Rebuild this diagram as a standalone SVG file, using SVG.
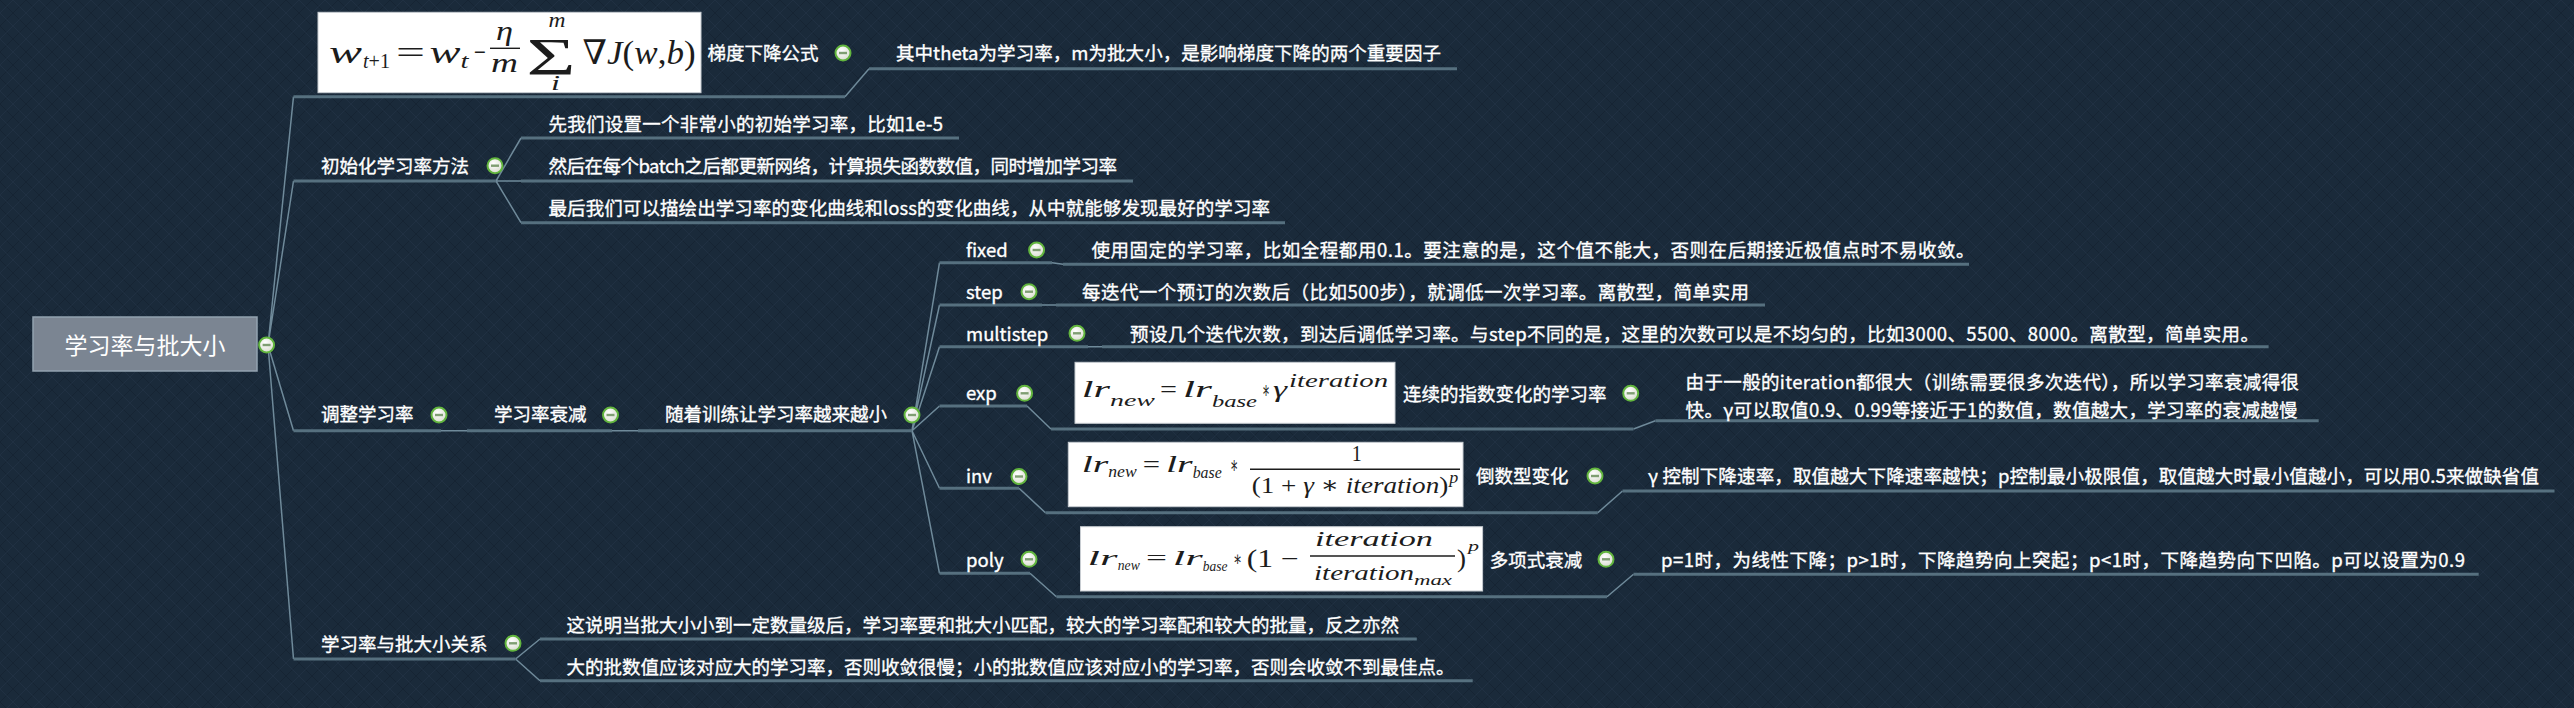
<svg xmlns="http://www.w3.org/2000/svg" width="2574" height="708" viewBox="0 0 2574 708">
<defs>
<style>
.t{font-family:"Noto Sans CJK SC","Noto Sans",sans-serif;font-size:18.5px;fill:#ffffff;stroke:#ffffff;stroke-width:0.35px;}
.rt{font-family:"Noto Sans CJK SC","Noto Sans",sans-serif;font-size:23px;fill:#ffffff;}
.ul{stroke:#56707f;stroke-width:3;fill:none;}
.cn{stroke:#6f8a9a;stroke-width:1.5;fill:none;}
.fb{fill:#ffffff;stroke:#c8cdd2;stroke-width:1;}
.m{font-family:"Liberation Serif","DejaVu Serif",serif;font-style:italic;fill:#1c1c1c;}
.u{font-style:normal;}
.bar{stroke:#1c1c1c;stroke-width:1.4;}
</style>
<radialGradient id="bg1" cx="0.4" cy="0.35" r="0.7">
<stop offset="0" stop-color="#ffffff"/>
<stop offset="1" stop-color="#d9dccf"/>
</radialGradient>
<g id="btn">
<circle r="7.5" fill="url(#bg1)" stroke="#62b53e" stroke-width="2"/>
<rect x="-4" y="-1.2" width="8" height="2.4" fill="#7f9e72"/>
</g>
<pattern id="tex" width="26" height="26" patternUnits="userSpaceOnUse">
<rect width="26" height="26" fill="#1a2a3a"/>
<path d="M0 0L26 26M26 0L0 26" stroke="#0f1a26" stroke-opacity="0.35" stroke-width="1"/>
<path d="M13 0L26 13M0 13L13 26M13 0L0 13M26 13L13 26" stroke="#2c3d4f" stroke-opacity="0.35" stroke-width="1"/>
</pattern>
</defs>
<rect width="2574" height="708" fill="url(#tex)"/>

<g id="connectors">
<path class="cn" d="M268 345L293.5 96.7M268 345L293.5 181M268 345L293.5 430.7M268 345L293.5 659"/>
<path class="cn" d="M845 96.7L869 68.7"/>
<path class="cn" d="M496 181L521 138M496 181L521 181M496 181L521 222.7"/>
<path class="cn" d="M441 430.7L467 430.7M612 430.7L638 430.7"/>
<path class="cn" d="M912 430.7L939.5 262.7M912 430.7L939.5 305M912 430.7L939.5 346.7M912 430.7L939.5 406M912 430.7L939.5 488.3M912 430.7L939.5 573.3"/>
<path class="cn" d="M1052 262.7L1063 264.3M1042 305L1056 305M1088 346.7L1102 346.7"/>
<path class="cn" d="M1027 406L1051 429M1633.5 429L1655.4 420.7"/>
<path class="cn" d="M1019 488.3L1045.4 512.7M1597.8 512.7L1622.5 491"/>
<path class="cn" d="M1030 573.3L1056.4 596.7M1607 596.7L1633.5 574.3"/>
<path class="cn" d="M515.6 659L540 639M515.6 659L540 680.7"/>
</g>

<g id="root">
<rect x="33" y="317" width="224" height="54" fill="#7b8592" stroke="#93a3b0" stroke-width="1.5"/>
<text class="rt" x="145" y="353.5" text-anchor="middle">学习率与批大小</text>
<use href="#btn" x="266.6" y="345"/>
</g>

<g id="n-gradient">
<path class="ul" d="M293.5 96.7H845"/>
<rect class="fb" x="318" y="12.3" width="383" height="80.4"/>
<text class="m" x="329" y="63" font-size="32" textLength="33" lengthAdjust="spacingAndGlyphs">w</text>
<text class="m" x="363" y="68" font-size="21" textLength="27" lengthAdjust="spacingAndGlyphs">t<tspan class="u">+1</tspan></text>
<text class="m u" x="396" y="63" font-size="32" textLength="29" lengthAdjust="spacingAndGlyphs">=</text>
<text class="m" x="429.5" y="63" font-size="32" textLength="31" lengthAdjust="spacingAndGlyphs">w</text>
<text class="m" x="460.5" y="68" font-size="21" textLength="8" lengthAdjust="spacingAndGlyphs">t</text>
<text class="m u" x="474" y="62" font-size="30" textLength="12" lengthAdjust="spacingAndGlyphs">−</text>
<text class="m" x="496" y="40" font-size="28" textLength="17" lengthAdjust="spacingAndGlyphs">η</text>
<line class="bar" x1="490" y1="48.3" x2="520" y2="48.3"/>
<text class="m" x="491" y="72" font-size="28" textLength="27" lengthAdjust="spacingAndGlyphs">m</text>
<text class="m u" x="526.6" y="75" font-size="52" textLength="49" lengthAdjust="spacingAndGlyphs">Σ</text>
<text class="m" x="548.5" y="27" font-size="20" textLength="17" lengthAdjust="spacingAndGlyphs">m</text>
<text class="m" x="551" y="90" font-size="20" textLength="9" lengthAdjust="spacingAndGlyphs">i</text>
<text class="m" x="582.6" y="64" font-size="34" textLength="113" lengthAdjust="spacingAndGlyphs"><tspan class="u">∇</tspan>J<tspan class="u">(</tspan>w<tspan class="u">,</tspan>b<tspan class="u">)</tspan></text>
<text class="t" x="707.6" y="60">梯度下降公式</text>
<use href="#btn" x="843" y="53"/>
</g>
<g id="n-gradient-note">
<path class="ul" d="M869 68.7H1457"/>
<text class="t" x="896" y="60" textLength="545" lengthAdjust="spacing">其中theta为学习率，m为批大小，是影响梯度下降的两个重要因子</text>
</g>

<g id="n-init">
<path class="ul" d="M293.5 181H496"/>
<text class="t" x="321" y="173">初始化学习率方法</text>
<use href="#btn" x="495" y="165.7"/>
</g>
<g id="n-init-1">
<path class="ul" d="M521 138H959"/>
<text class="t" x="548.5" y="131" textLength="394.5" lengthAdjust="spacing">先我们设置一个非常小的初始学习率，比如1e-5</text>
</g>
<g id="n-init-2">
<path class="ul" d="M521 181H1133"/>
<text class="t" x="548.5" y="173" textLength="568.5" lengthAdjust="spacing">然后在每个batch之后都更新网络，计算损失函数数值，同时增加学习率</text>
</g>
<g id="n-init-3">
<path class="ul" d="M521 222.7H1285"/>
<text class="t" x="548.5" y="215" textLength="721.5" lengthAdjust="spacing">最后我们可以描绘出学习率的变化曲线和loss的变化曲线，从中就能够发现最好的学习率</text>
</g>

<g id="n-adjust">
<path class="ul" d="M293.5 430.7H441"/>
<text class="t" x="321" y="421">调整学习率</text>
<use href="#btn" x="439" y="415"/>
</g>
<g id="n-decay">
<path class="ul" d="M467 430.7H612"/>
<text class="t" x="494" y="421">学习率衰减</text>
<use href="#btn" x="610.5" y="415"/>
</g>
<g id="n-smaller">
<path class="ul" d="M638 430.7H912"/>
<text class="t" x="665" y="421">随着训练让学习率越来越小</text>
<use href="#btn" x="912" y="415"/>
</g>

<g id="n-fixed">
<path class="ul" d="M939.5 262.7H1052"/>
<text class="t" x="966" y="257">fixed</text>
<use href="#btn" x="1036.6" y="250"/>
</g>
<g id="n-fixed-note">
<path class="ul" d="M1063 264.3H1969"/>
<text class="t" x="1091.5" y="257" textLength="883" lengthAdjust="spacing">使用固定的学习率，比如全程都用0.1。要注意的是，这个值不能大，否则在后期接近极值点时不易收敛。</text>
</g>

<g id="n-step">
<path class="ul" d="M939.5 305H1042"/>
<text class="t" x="966" y="298.7">step</text>
<use href="#btn" x="1029" y="291.7"/>
</g>
<g id="n-step-note">
<path class="ul" d="M1056 305H1765"/>
<text class="t" x="1082" y="298.7" textLength="667" lengthAdjust="spacing">每迭代一个预订的次数后（比如500步），就调低一次学习率。离散型，简单实用</text>
</g>

<g id="n-multistep">
<path class="ul" d="M939.5 346.7H1088"/>
<text class="t" x="966" y="341">multistep</text>
<use href="#btn" x="1077" y="333.3"/>
</g>
<g id="n-multistep-note">
<path class="ul" d="M1102 346.7H2268.6"/>
<text class="t" x="1130" y="341" textLength="1129" lengthAdjust="spacing">预设几个迭代次数，到达后调低学习率。与step不同的是，这里的次数可以是不均匀的，比如3000、5500、8000。离散型，简单实用。</text>
</g>

<g id="n-exp">
<path class="ul" d="M939.5 406H1027"/>
<text class="t" x="966" y="400.3">exp</text>
<use href="#btn" x="1024.6" y="393.3"/>
</g>
<g id="n-exp-formula">
<path class="ul" d="M1051 429H1633.5"/>
<rect class="fb" x="1075" y="362.3" width="320" height="61"/>
<text class="m" x="1081.7" y="396.7" font-size="24" textLength="28.3" lengthAdjust="spacingAndGlyphs">lr</text>
<text class="m" x="1110" y="406" font-size="17" textLength="45" lengthAdjust="spacingAndGlyphs">new</text>
<text class="m u" x="1160" y="396.7" font-size="24" textLength="17" lengthAdjust="spacingAndGlyphs">=</text>
<text class="m" x="1183" y="396.7" font-size="24" textLength="29" lengthAdjust="spacingAndGlyphs">lr</text>
<text class="m" x="1212" y="407" font-size="17" textLength="45" lengthAdjust="spacingAndGlyphs">base</text>
<text class="m u" x="1262" y="398" font-size="24" textLength="8" lengthAdjust="spacingAndGlyphs">∗</text>
<text class="m" x="1273" y="396.7" font-size="24" textLength="14" lengthAdjust="spacingAndGlyphs">γ</text>
<text class="m" x="1289" y="386.7" font-size="18" textLength="99" lengthAdjust="spacingAndGlyphs">iteration</text>
<text class="t" x="1403" y="401">连续的指数变化的学习率</text>
<use href="#btn" x="1630.7" y="393.3"/>
</g>
<g id="n-exp-note">
<path class="ul" d="M1655.4 420.7H2318.7"/>
<text class="t" x="1685.6" y="388.7" textLength="613.4" lengthAdjust="spacing">由于一般的iteration都很大（训练需要很多次迭代），所以学习率衰减得很</text>
<text class="t" x="1685.6" y="417" textLength="612" lengthAdjust="spacing">快。γ可以取值0.9、0.99等接近于1的数值，数值越大，学习率的衰减越慢</text>
</g>

<g id="n-inv">
<path class="ul" d="M939.5 488.3H1019"/>
<text class="t" x="966" y="483">inv</text>
<use href="#btn" x="1019" y="476.5"/>
</g>
<g id="n-inv-formula">
<path class="ul" d="M1045.4 512.7H1597.8"/>
<rect class="fb" x="1068.3" y="442.3" width="394.7" height="64.4"/>
<text class="m" x="1081.7" y="471.7" font-size="24" textLength="26.6" lengthAdjust="spacingAndGlyphs">lr</text>
<text class="m" x="1108.3" y="477" font-size="16" textLength="28.4" lengthAdjust="spacingAndGlyphs">new</text>
<text class="m u" x="1142.7" y="471.7" font-size="24" textLength="17.3" lengthAdjust="spacingAndGlyphs">=</text>
<text class="m" x="1166" y="471.7" font-size="24" textLength="26.7" lengthAdjust="spacingAndGlyphs">lr</text>
<text class="m" x="1192.7" y="478" font-size="16" textLength="29" lengthAdjust="spacingAndGlyphs">base</text>
<text class="m u" x="1230" y="473" font-size="24" textLength="8.3" lengthAdjust="spacingAndGlyphs">∗</text>
<text class="m u" x="1351.7" y="461" font-size="24" textLength="10" lengthAdjust="spacingAndGlyphs">1</text>
<line class="bar" x1="1250" y1="469.3" x2="1460" y2="469.3"/>
<text class="m" x="1251.7" y="493.3" font-size="24" textLength="196.6" lengthAdjust="spacingAndGlyphs"><tspan class="u">(1 + </tspan>γ<tspan class="u"> ∗ </tspan>iteration<tspan class="u">)</tspan></text>
<text class="m" x="1449.3" y="483.3" font-size="16" textLength="9" lengthAdjust="spacingAndGlyphs">p</text>
<text class="t" x="1476" y="483">倒数型变化</text>
<use href="#btn" x="1595" y="476"/>
</g>
<g id="n-inv-note">
<path class="ul" d="M1622.5 491H2554.5"/>
<text class="t" x="1648" y="483" textLength="891" lengthAdjust="spacing">γ 控制下降速率，取值越大下降速率越快；p控制最小极限值，取值越大时最小值越小，可以用0.5来做缺省值</text>
</g>

<g id="n-poly">
<path class="ul" d="M939.5 573.3H1030"/>
<text class="t" x="966" y="567">poly</text>
<use href="#btn" x="1029" y="559.3"/>
</g>
<g id="n-poly-formula">
<path class="ul" d="M1056.4 596.7H1607"/>
<rect class="fb" x="1080.5" y="526.7" width="402.1" height="64.3"/>
<text class="m" x="1087.6" y="565" font-size="21" textLength="30" lengthAdjust="spacingAndGlyphs">lr</text>
<text class="m" x="1117.8" y="570" font-size="14" textLength="22" lengthAdjust="spacingAndGlyphs">new</text>
<text class="m u" x="1146" y="565" font-size="21" textLength="21" lengthAdjust="spacingAndGlyphs">=</text>
<text class="m" x="1172.7" y="565" font-size="21" textLength="30" lengthAdjust="spacingAndGlyphs">lr</text>
<text class="m" x="1202.8" y="571" font-size="14" textLength="24.7" lengthAdjust="spacingAndGlyphs">base</text>
<text class="m u" x="1233" y="566" font-size="21" textLength="9" lengthAdjust="spacingAndGlyphs">∗</text>
<text class="m u" x="1246.7" y="567" font-size="25" textLength="52" lengthAdjust="spacingAndGlyphs">(1 −</text>
<text class="m" x="1315" y="546" font-size="21" textLength="118" lengthAdjust="spacingAndGlyphs">iteration</text>
<line class="bar" x1="1310" y1="556" x2="1455" y2="556"/>
<text class="m" x="1314" y="580" font-size="21" textLength="100" lengthAdjust="spacingAndGlyphs">iteration</text>
<text class="m" x="1414" y="585" font-size="14" textLength="38" lengthAdjust="spacingAndGlyphs">max</text>
<text class="m u" x="1457" y="567" font-size="25" textLength="9" lengthAdjust="spacingAndGlyphs">)</text>
<text class="m" x="1468" y="551" font-size="14" textLength="11" lengthAdjust="spacingAndGlyphs">p</text>
<text class="t" x="1489.7" y="567">多项式衰减</text>
<use href="#btn" x="1606" y="559.3"/>
</g>
<g id="n-poly-note">
<path class="ul" d="M1633.5 574.3H2478.7"/>
<text class="t" x="1661" y="567" textLength="804" lengthAdjust="spacing">p=1时，为线性下降；p&gt;1时，下降趋势向上突起；p&lt;1时，下降趋势向下凹陷。p可以设置为0.9</text>
</g>

<g id="n-batch">
<path class="ul" d="M293.5 659H515.6"/>
<text class="t" x="321" y="651.3">学习率与批大小关系</text>
<use href="#btn" x="513" y="643.3"/>
</g>
<g id="n-batch-1">
<path class="ul" d="M540 639H1416.8"/>
<text class="t" x="566.6" y="632">这说明当批大小小到一定数量级后，学习率要和批大小匹配，较大的学习率配和较大的批量，反之亦然</text>
</g>
<g id="n-batch-2">
<path class="ul" d="M540 680.7H1472.7"/>
<text class="t" x="566.6" y="673.7">大的批数值应该对应大的学习率，否则收敛很慢；小的批数值应该对应小的学习率，否则会收敛不到最佳点。</text>
</g>
</svg>
